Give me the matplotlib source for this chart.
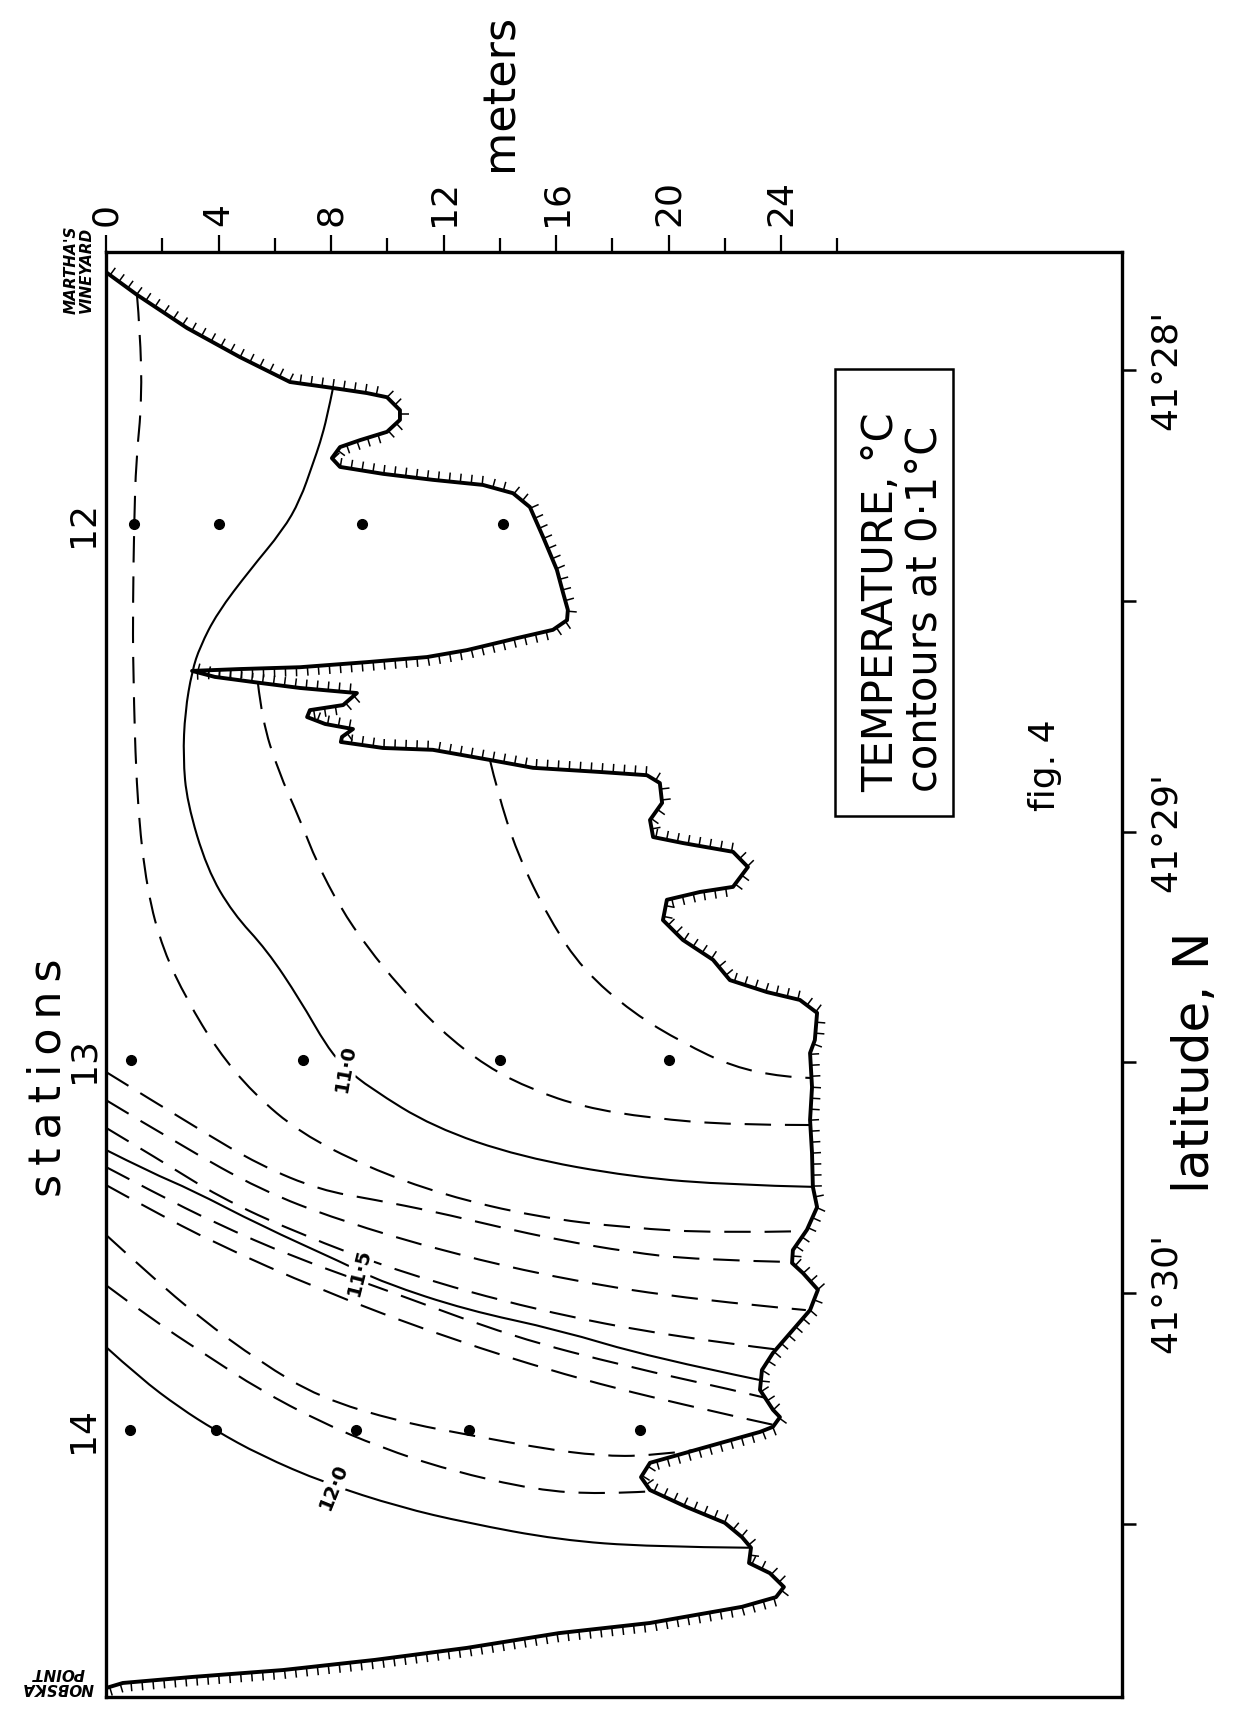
import numpy as np
import matplotlib
matplotlib.use('Agg')
import matplotlib.pyplot as plt
from matplotlib.collections import LineCollection
from matplotlib.patches import Rectangle, PathPatch
from matplotlib.path import Path

plt.rcParams['font.family'] = ['DejaVu Sans']
plt.rcParams['lines.scale_dashes'] = False

# bottom profile from Martha's Vineyard to Nobska Point
# depth in m, position as latitude minutes past 41 deg N
bottom_depth = [0.0, 1.10, 2.88, 4.76, 6.54, 8.07, 9.28, 9.99, 10.45, 10.45, 9.99, 9.03, 8.32, 8.03, 8.32,
                9.85, 11.62, 13.40, 14.47, 15.07, 15.54, 16.03, 16.25, 16.42, 16.39, 15.89, 14.61, 12.83,
                11.41, 9.28, 6.90, 4.76, 3.06, 3.87, 5.47, 6.90, 8.92, 8.43, 7.25, 7.15, 7.79, 8.78, 8.39,
                8.35, 9.85, 11.62, 13.65, 15.18, 17.56, 19.23, 19.69, 19.77, 19.34, 19.45, 20.51, 22.29,
                22.82, 22.29, 21.12, 19.94, 19.80, 20.51, 21.58, 22.18, 23.50, 24.67, 25.28, 25.20, 25.03,
                25.10, 25.03, 25.10, 25.13, 25.28, 24.92, 24.42, 24.39, 24.78, 25.31, 25.03, 24.42, 23.71,
                23.32, 23.25, 23.71, 23.96, 23.71, 23.25, 20.97, 19.34, 19.02, 19.34, 20.65, 22.00, 22.61,
                22.93, 22.86, 23.60, 24.10, 23.82, 22.61, 19.34, 16.10, 12.83, 9.56, 6.29, 3.06, 0.60, 0.0]
bottom_lat = [27.788, 27.837, 27.909, 27.972, 28.026, 28.039, 28.050, 28.059, 28.087, 28.108, 28.134,
              28.152, 28.167, 28.191, 28.210, 28.225, 28.238, 28.249, 28.267, 28.297, 28.362, 28.433,
              28.483, 28.520, 28.542, 28.563, 28.581, 28.607, 28.622, 28.633, 28.644, 28.648, 28.652,
              28.665, 28.678, 28.689, 28.700, 28.726, 28.737, 28.752, 28.767, 28.778, 28.795, 28.806,
              28.819, 28.823, 28.845, 28.862, 28.871, 28.878, 28.895, 28.938, 28.975, 29.012, 29.025,
              29.044, 29.077, 29.120, 29.131, 29.148, 29.192, 29.235, 29.278, 29.322, 29.348, 29.365,
              29.393, 29.452, 29.480, 29.554, 29.625, 29.697, 29.770, 29.814, 29.863, 29.907, 29.935,
              29.957, 29.993, 30.037, 30.080, 30.130, 30.167, 30.210, 30.253, 30.269, 30.290, 30.301,
              30.340, 30.368, 30.399, 30.427, 30.464, 30.498, 30.529, 30.552, 30.585, 30.607, 30.637,
              30.659, 30.680, 30.715, 30.737, 30.769, 30.795, 30.817, 30.832, 30.845, 30.856]

# stations and sampling depths
stations = ['12', '13', '14']
station_lat = [28.334, 29.495, 30.297]
sample_depths = [[1.0, 4.0, 9.1, 14.1],
                 [0.9, 7.0, 14.0, 20.0],
                 [0.85, 3.9, 8.9, 12.9, 19.0]]

# isotherms, (depth m, latitude minutes)
t10_8 = [(13.65, 28.845), (13.90, 28.910), (14.61, 29.047), (15.78, 29.192), (16.96, 29.300),
         (18.73, 29.393), (20.51, 29.458), (22.29, 29.510), (24.07, 29.532), (25.03, 29.534)]
t10_9 = [(5.40, 28.678), (5.55, 28.758), (6.11, 28.867), (6.90, 28.975), (7.50, 29.068), (8.32, 29.164),
         (9.28, 29.250), (10.45, 29.337), (11.87, 29.430), (13.54, 29.510), (15.18, 29.560),
         (16.96, 29.597), (19.34, 29.621), (22.29, 29.636), (25.03, 29.636)]
t11_0 = [(8.07, 28.039), (7.86, 28.102), (7.61, 28.158), (7.36, 28.202), (6.90, 28.282), (6.29, 28.347),
         (5.12, 28.433), (3.95, 28.527), (3.34, 28.600), (3.06, 28.652), (2.81, 28.741), (2.74, 28.839),
         (2.88, 28.936), (3.59, 29.081), (4.51, 29.177), (5.72, 29.257), (6.90, 29.365), (7.86, 29.467),
         (8.50, 29.512), (9.39, 29.556), (11.62, 29.640), (14.72, 29.705), (18.73, 29.749),
         (22.29, 29.766), (25.13, 29.770)]
t11_1 = [(1.10, 27.837), (1.21, 27.913), (1.28, 28.065), (1.07, 28.195), (1.00, 28.334), (0.96, 28.500),
         (0.96, 28.647), (1.10, 28.936), (1.46, 29.129), (2.03, 29.257), (2.88, 29.365), (3.95, 29.473),
         (5.23, 29.567), (6.90, 29.653), (9.28, 29.727), (12.02, 29.788), (15.29, 29.835),
         (18.56, 29.859), (21.79, 29.870), (24.90, 29.866)]
t11_2 = [(0.0, 29.521), (3.34, 29.647), (5.47, 29.723), (7.61, 29.777), (9.56, 29.798), (11.70, 29.824),
         (13.97, 29.857), (16.10, 29.885), (18.56, 29.911), (20.97, 29.928), (24.42, 29.933)]
t11_3 = [(0.0, 29.582), (2.63, 29.679), (5.51, 29.777), (8.28, 29.842), (12.19, 29.913), (16.42, 29.972),
         (20.97, 30.015), (24.88, 30.037)]
t11_4 = [(0.0, 29.642), (1.92, 29.712), (4.02, 29.792), (6.79, 29.870), (10.56, 29.957), (15.29, 30.037),
         (20.16, 30.095), (23.92, 30.123)]
t11_5 = [(0.0, 29.690), (1.56, 29.738), (3.06, 29.777), (5.47, 29.853), (8.43, 29.935), (9.88, 29.978),
         (12.83, 30.037), (16.10, 30.080), (19.34, 30.139), (23.28, 30.189)]
t11_6 = [(0.0, 29.727), (1.74, 29.783), (3.87, 29.848), (6.65, 29.922), (10.24, 30.000), (14.47, 30.095),
         (18.56, 30.160), (22.29, 30.210), (23.43, 30.227)]
t11_7 = [(0.0, 29.766), (1.42, 29.814), (3.87, 29.892), (7.61, 29.993), (12.02, 30.095), (16.92, 30.189),
         (21.79, 30.260), (23.75, 30.286)]
t11_8 = [(0.0, 29.874), (1.56, 29.961), (3.34, 30.054), (5.47, 30.149), (7.61, 30.227), (10.45, 30.279),
         (12.94, 30.308), (15.43, 30.336), (17.56, 30.353), (19.34, 30.353), (20.97, 30.340)]
t11_9 = [(0.0, 29.983), (1.56, 30.054), (3.55, 30.134), (5.47, 30.210), (7.61, 30.279), (9.74, 30.334),
         (12.19, 30.384), (15.29, 30.427), (17.56, 30.436), (19.30, 30.430)]
t12_0 = [(0.0, 30.117), (1.21, 30.184), (2.63, 30.249), (3.87, 30.297), (5.47, 30.351), (7.79, 30.412),
         (10.45, 30.464), (12.83, 30.498), (16.10, 30.535), (19.34, 30.550), (22.93, 30.552)]

solid_isotherms = [t11_0, t11_5, t12_0]
dashed_isotherms = [t10_8, t10_9, t11_1, t11_2, t11_3, t11_4, t11_6, t11_7, t11_8, t11_9]

# contour labels: text, depth, latitude, rotation
iso_labels = [('11·0', 8.50, 29.514, 80), ('11·5', 9.0, 29.956, 76), ('12·0', 8.1, 30.42, 68)]

depth_ticks = [0, 4, 8, 12, 16, 20, 24]
lat_ticks = [28, 28.5, 29, 29.5, 30, 30.5]
lat_ticklabels = ["41°28'", '', "41°29'", '', "41°30'", '']


def smooth_path(pts):
    pts = np.asarray(pts, float)
    verts = [pts[0]]
    codes = [Path.MOVETO]
    n = len(pts)
    for i in range(1, n - 1):
        end = (pts[i] + pts[i + 1]) / 2 if i < n - 2 else pts[i + 1]
        verts += [pts[i], end]
        codes += [Path.CURVE3, Path.CURVE3]
    return Path(verts, codes)


fig = plt.figure(figsize=(12.44, 17.16), dpi=100)
ax = fig.add_axes([106 / 1244, 1 - 1697 / 1716, 1016 / 1244, 1445 / 1716])
ax.set_xlim(0, 36.12)
ax.set_ylim(30.8754, 27.7443)

ax2 = ax.twinx()
ax2.set_ylim(ax.get_ylim())

for sp in ax.spines.values():
    sp.set_linewidth(2.4)
for sp in ax2.spines.values():
    sp.set_visible(False)

# top axis (depth)
ax.xaxis.tick_top()
ax.set_xticks(depth_ticks)
ax.set_xticklabels([str(t) for t in depth_ticks])
ax.set_xticks(np.arange(2, 27, 4), minor=True)
ax.tick_params(axis='x', which='major', direction='out', length=12, width=1.6, pad=7,
               labelsize=26, labelrotation=90)
ax.tick_params(axis='x', which='minor', direction='out', length=10, width=1.6)

# left axis (stations)
ax.set_yticks(station_lat)
ax.set_yticklabels(stations)
ax.tick_params(axis='y', length=0, pad=4, labelsize=26, labelrotation=90)
for lbl in ax.get_yticklabels():
    lbl.set_va('center')

# right axis (latitude)
ax2.set_yticks(lat_ticks)
ax2.set_yticklabels(lat_ticklabels)
ax2.tick_params(axis='y', direction='out', length=10, width=1.8, pad=9, labelsize=26, labelrotation=90)
for lbl in ax2.get_yticklabels():
    lbl.set_va('center')

# bottom profile with hatching on the sediment side
ax.plot(bottom_depth, bottom_lat, color='black', lw=2.8, solid_joinstyle='round', zorder=4)
xy = ax.transData.transform(np.column_stack([bottom_depth, bottom_lat]))
seg = np.diff(xy, axis=0)
seg_len = np.maximum(np.hypot(seg[:, 0], seg[:, 1]), 1e-6)
cum = np.concatenate([[0], np.cumsum(seg_len)])
s = np.arange(5, cum[-1], 11)
idx = np.clip(np.searchsorted(cum, s, side='right') - 1, 0, len(seg) - 1)
frac = (s - cum[idx]) / seg_len[idx]
base = xy[idx] + seg[idx] * frac[:, None]
tang = seg[idx] / seg_len[idx][:, None]
normal = np.column_stack([-tang[:, 1], tang[:, 0]])
tip = base + 9 * normal
inv = ax.transData.inverted()
hatch = [[inv.transform(b), inv.transform(t)] for b, t in zip(base, tip)]
ax.add_collection(LineCollection(hatch, colors='black', linewidths=1.1, zorder=4))

# isotherms
for iso in solid_isotherms:
    ax.add_patch(PathPatch(smooth_path(iso), fill=False, lw=1.5, ec='black', zorder=3))
for iso in dashed_isotherms:
    ax.add_patch(PathPatch(smooth_path(iso), fill=False, lw=1.5, ec='black', zorder=3,
                           linestyle=(0, (19, 10))))

for txt, d, la, rot in iso_labels:
    ax.text(d, la, txt, rotation=rot, fontsize=14, fontweight='bold', ha='center', va='center',
            zorder=5, bbox=dict(fc='white', ec='none', pad=1.5))

# sampling points
for la, depths in zip(station_lat, sample_depths):
    ax.plot(depths, [la] * len(depths), 'o', color='black', ms=7, zorder=5)

# legend box
ax.add_patch(Rectangle((0.7175, 0.6097), 0.1160, 0.3093, transform=ax.transAxes,
                       fill=False, lw=1.8, ec='black'))
ax.text(0.7840, 0.7580, 'TEMPERATURE, °C\ncontours at 0·1°C', transform=ax.transAxes,
        rotation=90, ha='center', va='center', multialignment='left', fontsize=30, linespacing=1.05)

# outside texts
fig.text(0.4020, 0.9460, 'meters', rotation=90, fontsize=32, ha='center', va='center')
fig.text(0.0386, 0.3718, '\u2009'.join('stations'), rotation=90, fontsize=32, ha='center', va='center')
fig.text(0.9606, 0.3810, 'latitude, N', rotation=90, fontsize=36, ha='center', va='center')
fig.text(0.8400, 0.5542, 'fig. 4', rotation=90, fontsize=26, ha='center', va='center')
fig.text(0.0635, 0.8427, "MARTHA'S\nVINEYARD", rotation=90, fontsize=11, fontweight='bold',
         fontstyle='italic', ha='center', va='center', linespacing=1.0)
fig.text(0.0466, 0.0210, 'NOBSKA\nPOINT', rotation=180, fontsize=11, fontweight='bold',
         fontstyle='italic', ha='center', va='center', linespacing=1.0)

fig.savefig('out.png', dpi=100)
